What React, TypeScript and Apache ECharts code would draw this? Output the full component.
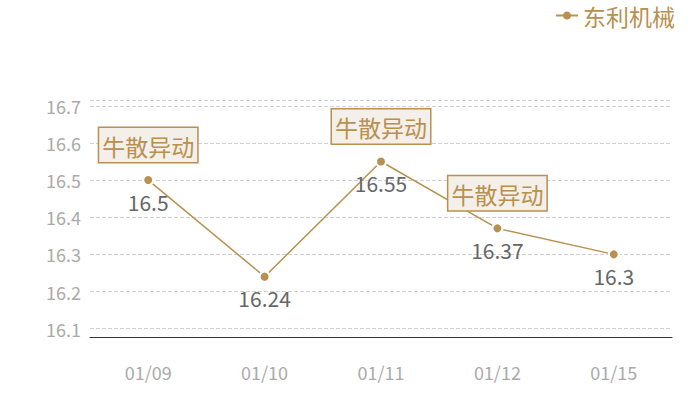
import React, { useEffect, useRef } from "react";
import * as echarts from "echarts";

const categories = ["01/09", "01/10", "01/11", "01/12", "01/15"];
const prices = [16.5, 16.24, 16.55, 16.37, 16.3];
const seriesName = "东利机械";
const eventLabel = "牛散异动";
const eventDates = ["01/09", "01/11", "01/12"];

const GOLD = "#b8904f";
const FONT = "'Noto Sans CJK SC', 'Noto Sans', sans-serif";

export default function App() {
  const ref = useRef<HTMLDivElement>(null);
  useEffect(() => {
    if (!ref.current) return;
    const chart = echarts.init(ref.current, undefined, { renderer: "svg" });
    const markData = eventDates.map((d) => {
      const i = categories.indexOf(d);
      return { coord: [d, prices[i]], value: eventLabel };
    });
    chart.setOption({
      animation: false,
      textStyle: { fontFamily: FONT },
      legend: {
        right: 20,
        top: 0,
        padding: [4, 5, 4, 5],
        itemWidth: 22,
        itemHeight: 10,
        itemGap: 6,
        itemStyle: { borderWidth: 0 },
        textStyle: { color: GOLD, fontSize: 23, fontFamily: FONT },
        data: [seriesName],
      },
      grid: { left: 90, right: 28, top: 100, bottom: 63 },
      xAxis: {
        type: "category",
        data: categories,
        axisLine: { lineStyle: { color: "#333", width: 1 } },
        axisTick: { show: false },
        axisLabel: { color: "#aaa", fontSize: 18, margin: 26, fontFamily: FONT },
      },
      yAxis: {
        type: "value",
        min: (v: any) => v.min * 0.99,
        max: (v: any) => v.max * 1.01,
        axisLine: { show: false },
        axisTick: { show: false },
        axisLabel: {
          color: "#aaa",
          fontSize: 18,
          margin: 9,
          showMinLabel: false,
          showMaxLabel: false,
          fontFamily: FONT,
        },
        splitLine: { lineStyle: { color: "#d0d0d0", type: "dashed" } },
      },
      series: [
        {
          name: seriesName,
          type: "line",
          data: prices,
          symbol: "circle",
          symbolSize: 10,
          itemStyle: { color: GOLD, borderColor: "#fff", borderWidth: 2 },
          lineStyle: { color: GOLD, width: 1.5 },
          label: {
            show: true,
            position: "bottom",
            distance: 5,
            color: "#666",
            fontSize: 21,
            fontFamily: FONT,
          },
          markPoint: {
            symbol: "circle",
            symbolSize: 0.1,
            itemStyle: { color: "transparent" },
            label: {
              show: true,
              position: "top",
              distance: 18,
              formatter: "{c}",
              color: GOLD,
              fontSize: 23,
              fontFamily: FONT,
              backgroundColor: "#f4efe8",
              borderColor: GOLD,
              borderWidth: 1.5,
              padding: [6, 3, 5, 3],
            },
            data: markData,
          },
        },
      ],
    });
    return () => chart.dispose();
  }, []);
  return (
    <div
      ref={ref}
      style={{ position: "absolute", left: 0, top: 0, width: 700, height: 400 }}
    />
  );
}
